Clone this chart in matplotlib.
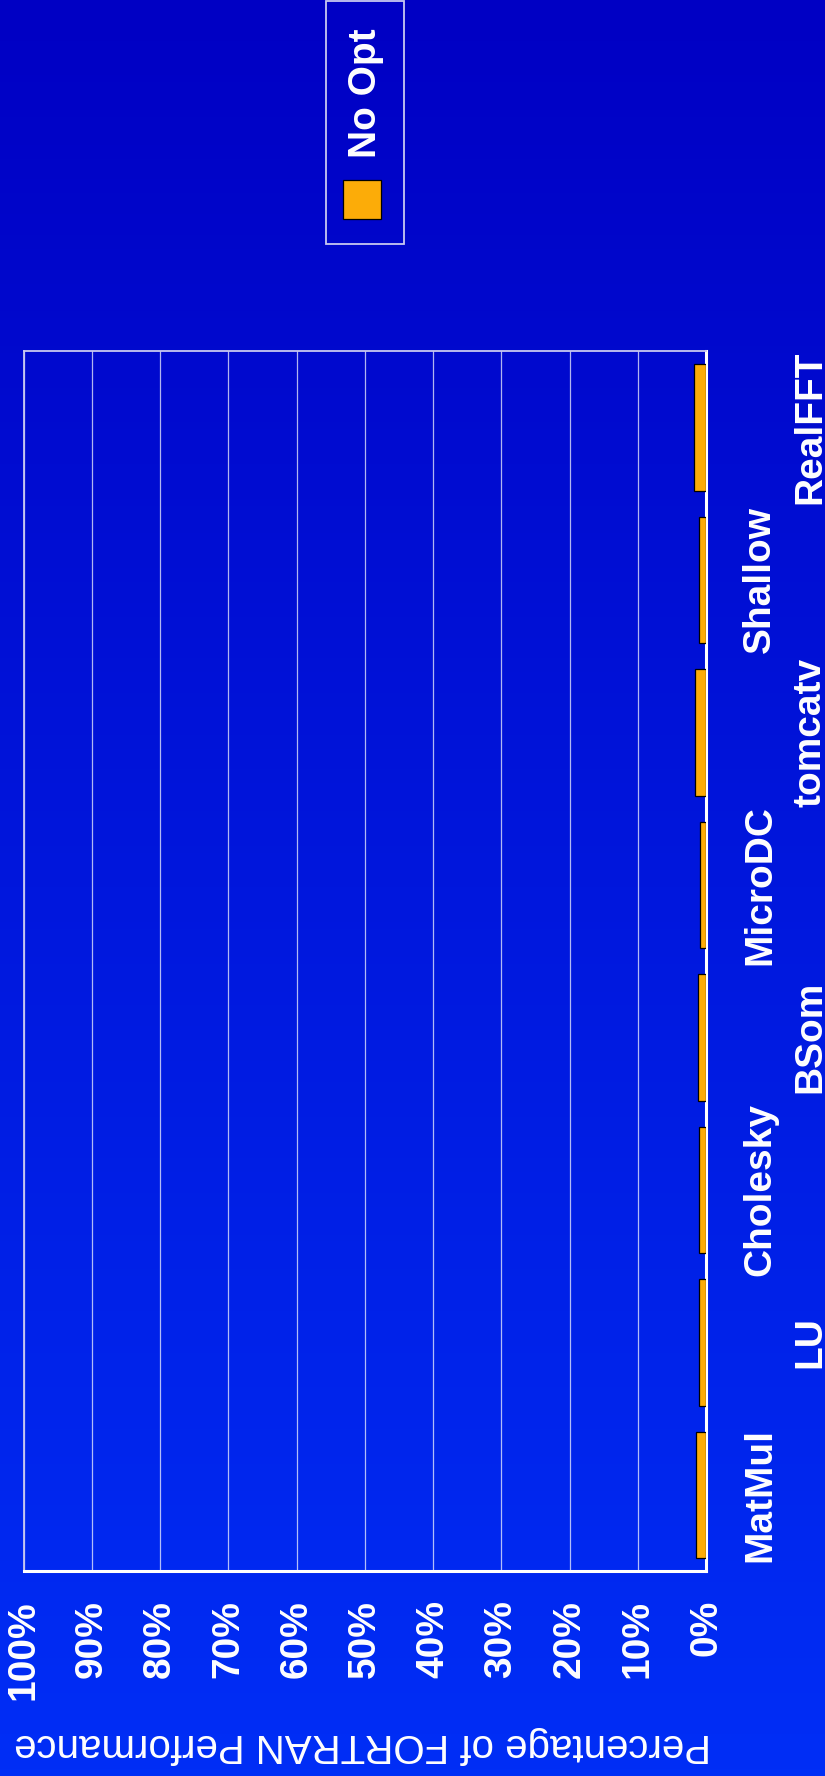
import numpy as np
import matplotlib.pyplot as plt
from matplotlib.patches import Rectangle
from matplotlib.transforms import ScaledTranslation

# Data (percent of FORTRAN performance), bottom to top
benchmarks = ['MatMul', 'LU', 'Cholesky', 'BSom', 'MicroDC', 'tomcatv', 'Shallow', 'RealFFT']
no_opt = [1.5, 1.0, 1.1, 1.2, 0.9, 1.6, 1.0, 1.8]
series_name = 'No Opt'
pct_ticks = [0, 10, 20, 30, 40, 50, 60, 70, 80, 90, 100]
pct_labels = [f'{t}%' for t in pct_ticks]
axis_title = 'Percentage of FORTRAN Performance'

bar_color = '#fcac08'
font = 'Liberation Sans'

fig = plt.figure(figsize=(8.25, 17.76), dpi=100)

# background gradient
bg = fig.add_axes([0, 0, 1, 1], zorder=-10)
grad = np.linspace(0, 1, 256).reshape(-1, 1)
top = np.array([0, 0, 196]) / 255
bot = np.array([0, 46, 246]) / 255
img = top + (bot - top) * grad[:, :, None]
bg.imshow(img, aspect='auto', extent=[0, 1, 0, 1])
bg.axis('off')

ax = fig.add_axes([0.0287, 0.1154, 0.8271, 0.6869])
ax.patch.set_alpha(0)

y = np.arange(len(benchmarks))
ax.barh(y, no_opt, height=0.83, color=bar_color, edgecolor='black', linewidth=0.9, zorder=3)

ax.set_xlim(100, 0)
ax.set_ylim(-0.5, len(benchmarks) - 0.5)
ax.set_xticks(pct_ticks)
ax.set_xticklabels(pct_labels, rotation=90, fontsize=28, fontweight='bold', color='white', family=font)
ax.tick_params(axis='x', length=0, pad=21)

ax.yaxis.tick_right()
ax.set_yticks(y)
ax.set_yticklabels(benchmarks, rotation=90, va='center', fontsize=28, fontweight='bold',
                   color='white', family=font)
ax.tick_params(axis='y', length=0, pad=26)
# staggered labels like the original
for i, lbl in enumerate(ax.get_yticklabels()):
    if i % 2 == 1:
        lbl.set_transform(lbl.get_transform() + ScaledTranslation(0.5, 0, fig.dpi_scale_trans))

ax.grid(axis='x', color='white', linewidth=0.9, alpha=0.7, zorder=0)
ax.grid(axis='y', visible=False)
for s in ['top', 'left']:
    ax.spines[s].set_color('#c8c8f0')
    ax.spines[s].set_linewidth(1.3)
for s in ['right', 'bottom']:
    ax.spines[s].set_color('white')
    ax.spines[s].set_linewidth(2.2)

fig.text(363 / 825, 1 - 1745 / 1776, axis_title, rotation=180, ha='center', va='center',
         fontsize=29, color='white', family=font)

# legend drawn by hand (rotated)
fig.patches.append(Rectangle((326 / 825, 1 - 244 / 1776), 78 / 825, 243 / 1776,
                             transform=fig.transFigure, facecolor='none',
                             edgecolor='#c8c8f0', linewidth=1.3))
fig.patches.append(Rectangle((343 / 825, 1 - 219 / 1776), 38 / 825, 39 / 1776,
                             transform=fig.transFigure, facecolor=bar_color,
                             edgecolor='black', linewidth=0.9))
fig.text(366 / 825, 1 - 93 / 1776, series_name, rotation=90, ha='center', va='center',
         fontsize=28, fontweight='bold', color='white', family=font)

fig.savefig('out.png', dpi=100)
